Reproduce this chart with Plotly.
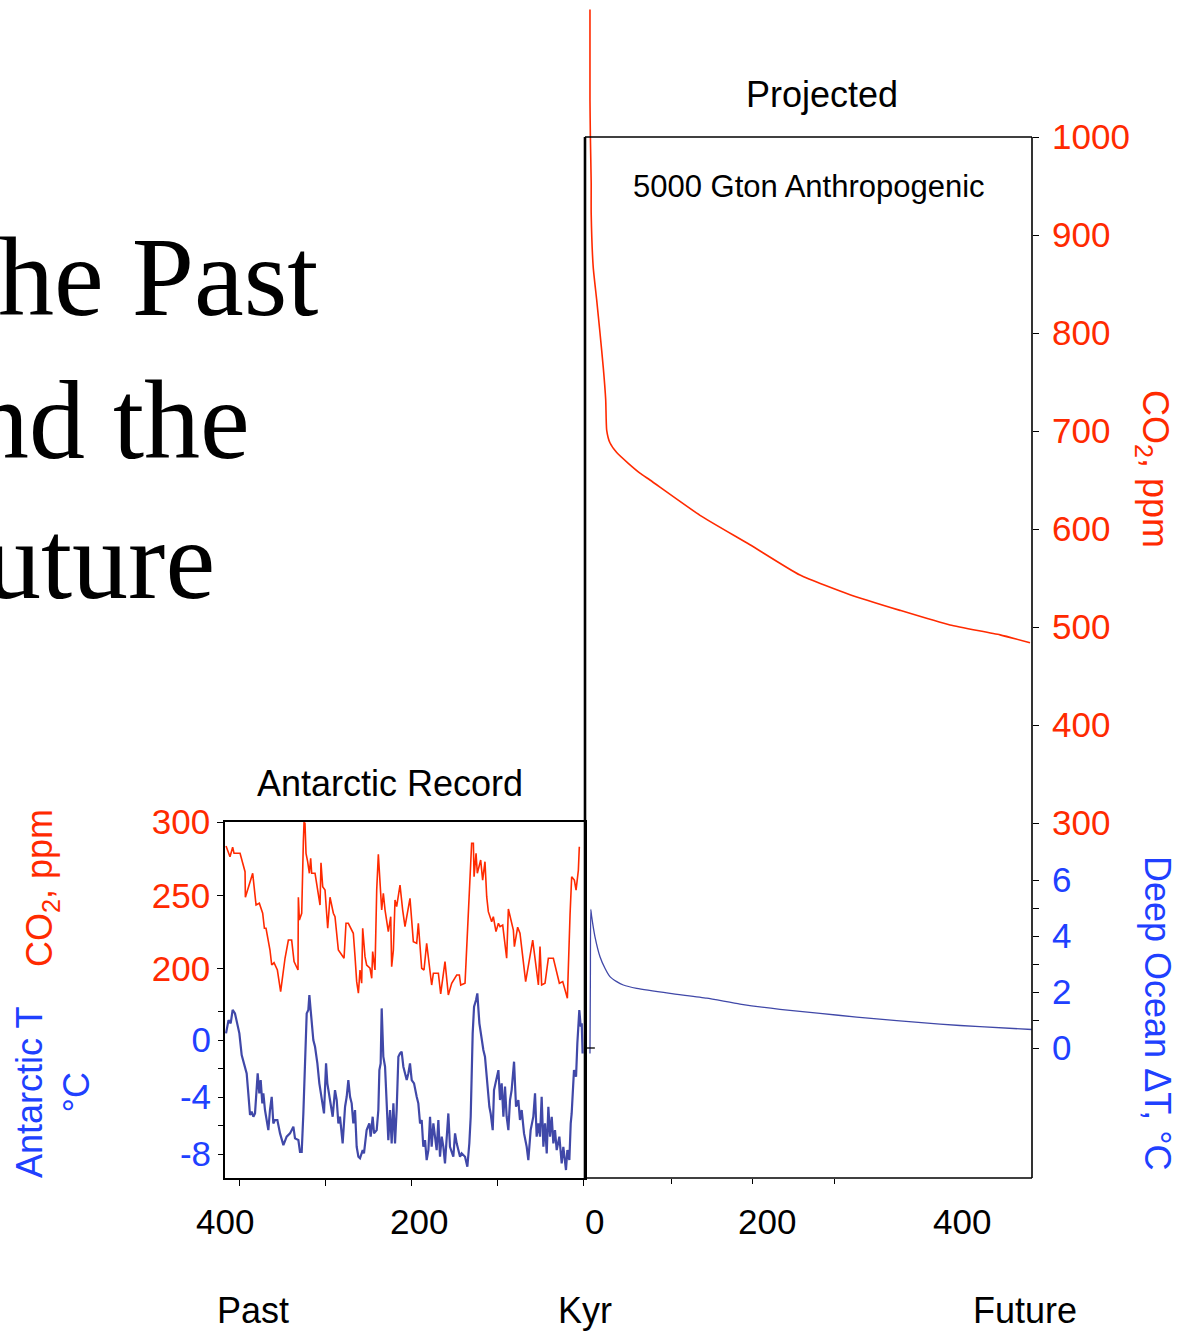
import plotly.graph_objects as go

# ---------------- data ----------------
# Antarctic (Vostok) record, kyr before present
past_co2_kyr = [415.1, 410.5, 407.4, 405.8, 398.8, 393.0, 392.6, 384.1, 380.2, 376.4, 372.5, 370.5, 368.6, 364.0, 362.0,
                359.3, 355.4, 351.6, 346.5, 342.6, 338.8, 336.0, 331.4, 331.0, 329.8, 327.1, 325.2, 324.4, 323.3, 322.1,
                320.2, 318.2, 316.7, 315.5, 311.6, 308.9, 305.8, 304.7, 302.7, 300.0, 296.9, 294.2, 290.3, 288.4, 284.5,
                277.9, 275.6, 272.9, 267.1, 265.1, 263.2, 261.2, 259.3, 257.4, 256.2, 253.5, 251.6, 247.7, 245.7, 244.6,
                241.9, 239.9, 238.0, 234.1, 232.2, 230.2, 226.4, 223.6, 222.5, 220.5, 218.6, 216.7, 212.8, 209.7, 207.0,
                201.2, 197.3, 193.4, 191.5, 187.6, 184.9, 181.8, 176.0, 174.0, 168.2, 165.5, 160.5, 156.6, 152.7, 146.9,
                143.8, 142.2, 137.2, 136.0, 134.5, 132.2, 129.5, 127.5, 126.7, 124.4, 122.9, 119.0, 116.7, 114.0, 112.0,
                110.1, 106.2, 104.3, 101.2, 98.4, 96.5, 93.4, 88.8, 86.8, 81.0, 79.8, 76.0, 73.3, 66.7, 58.5,
                51.9, 50.0, 48.1, 44.2, 40.3, 34.5, 27.5, 23.6, 18.2, 15.1, 13.2, 10.1, 8.1, 5.4, 4.3]
past_co2_ppm = [283.7, 276.4, 282.8, 278.7, 278.7, 266.2, 248.8, 265.1, 243.5, 244.7, 237.9, 227.7, 227.7, 212.9, 202.7,
                204.3, 199.3, 184.6, 207.3, 219.7, 219.7, 205.0, 199.3, 248.8, 233.3, 237.9, 286.6, 299.5, 299.1, 278.7,
                273.0, 265.1, 275.3, 265.1, 265.1, 253.7, 243.5, 272.3, 256.0, 253.7, 227.7, 248.8, 237.9, 235.6, 212.9,
                207.3, 231.1, 231.1, 224.3, 208.4, 191.4, 183.5, 199.3, 190.3, 227.7, 208.4, 202.7, 200.5, 193.7, 211.8,
                199.3, 253.7, 278.0, 240.1, 251.5, 240.1, 225.4, 235.6, 201.6, 212.9, 246.9, 242.4, 257.1, 240.1, 228.8,
                248.1, 218.6, 217.5, 231.1, 200.5, 199.3, 217.5, 189.1, 197.1, 197.1, 183.0, 205.0, 182.3, 190.3, 195.9,
                195.9, 189.1, 190.3, 205.0, 224.3, 259.4, 285.5, 285.5, 262.8, 278.7, 265.1, 274.1, 260.5, 273.0, 249.2,
                239.0, 232.2, 235.6, 225.4, 231.1, 228.8, 229.9, 207.3, 240.8, 226.5, 215.2, 228.4, 224.3, 191.4, 219.7,
                189.1, 215.2, 189.1, 190.3, 207.3, 207.3, 190.3, 191.4, 180.1, 236.7, 262.8, 260.5, 253.7, 267.3, 283.2]

past_t_kyr = [415.1, 412.2, 409.7, 407.4, 404.7, 401.9, 399.6, 396.9, 393.0, 391.1, 389.2, 387.2, 385.3, 383.3, 381.4,
              380.2, 378.3, 376.4, 374.8, 372.9, 371.7, 369.8, 367.9, 365.9, 364.0, 362.0, 360.1, 358.1, 355.4, 352.3,
              348.4, 344.6, 340.7, 336.8, 334.9, 331.0, 329.1, 327.1, 325.2, 323.3, 321.3, 319.4, 318.2, 316.7, 315.5,
              313.6, 311.6, 308.9, 306.6, 303.9, 301.2, 298.8, 297.3, 294.2, 291.1, 288.4, 286.4, 284.5, 282.6, 279.5,
              276.7, 274.8, 272.9, 270.9, 269.0, 267.1, 265.1, 263.2, 261.2, 259.3, 256.2, 254.7, 251.6, 248.5, 246.9,
              244.6, 243.0, 239.9, 238.0, 236.8, 235.3, 234.1, 232.2, 230.2, 228.3, 226.4, 224.4, 222.5, 220.5, 218.6,
              216.7, 214.7, 212.8, 210.9, 208.9, 205.0, 203.1, 201.2, 199.2, 196.5, 193.4, 191.5, 189.5, 187.6, 185.7,
              183.7, 181.8, 179.8, 177.9, 176.0, 174.0, 170.2, 168.2, 166.3, 164.3, 162.4, 160.5, 156.6, 154.7, 150.8,
              148.8, 146.9, 143.0, 141.1, 137.2, 134.5, 132.2, 130.6, 128.3, 126.7, 124.4, 122.9, 120.5, 119.0, 115.9,
              114.0, 112.0, 108.9, 107.4, 105.0, 103.5, 101.2, 98.4, 96.5, 94.6, 92.6, 90.7, 88.8, 86.8, 84.9,
              83.0, 80.2, 77.9, 75.2, 73.3, 71.3, 68.6, 65.5, 63.6, 60.9, 57.8, 55.8, 53.9, 51.9, 50.0,
              48.1, 46.1, 44.2, 42.2, 40.3, 38.4, 36.4, 34.5, 32.6, 30.6, 27.5, 24.8, 22.9, 19.8, 18.2,
              15.9, 14.3, 13.2, 10.5, 8.1, 6.6, 4.3, 2.7, 1.5, 0.5]
past_t_c = [0.47, 1.40, 1.17, 2.11, 1.87, 1.17, 0.47, -1.05, -1.87, -2.34, -3.74, -5.26, -5.03, -5.38, -5.15,
            -3.98, -2.34, -3.74, -2.81, -4.44, -3.74, -4.91, -5.61, -6.32, -4.91, -3.98, -5.85, -5.61, -5.61, -6.55,
            -7.37, -6.78, -6.55, -6.08, -6.90, -7.02, -7.84, -7.84, -5.15, -2.11, 1.87, 2.11, 3.16, 2.11, 1.17,
            0.00, -0.47, -1.64, -3.04, -4.21, -5.15, -1.64, -3.04, -4.21, -5.38, -3.51, -4.21, -5.85, -5.38, -7.25,
            -4.68, -3.98, -2.81, -3.98, -4.44, -5.85, -4.91, -7.49, -8.19, -8.30, -7.72, -7.95, -6.32, -5.85, -6.78,
            -5.38, -6.55, -6.32, -4.91, -2.11, -1.64, 2.22, -1.17, -1.87, -3.98, -7.02, -4.91, -7.25, -4.44, -7.25,
            -4.91, -1.17, -0.94, -0.82, -1.87, -2.81, -2.34, -1.64, -2.81, -3.04, -3.98, -4.44, -5.85, -5.61, -7.49,
            -7.02, -8.42, -7.72, -5.38, -7.49, -5.85, -7.72, -5.61, -8.19, -6.78, -7.49, -8.65, -5.15, -7.49, -8.19,
            -6.55, -7.25, -8.19, -7.95, -8.19, -8.89, -7.25, -5.38, 0.47, 2.34, 2.81, 3.27, 1.17, 0.47, -0.70,
            -1.17, -2.57, -4.68, -5.15, -6.32, -3.51, -2.81, -2.11, -4.21, -3.04, -5.38, -3.27, -5.38, -6.32, -4.21,
            -3.51, -1.52, -4.68, -4.21, -5.61, -4.91, -6.55, -7.49, -8.42, -6.32, -5.38, -3.74, -6.78, -5.85, -6.78,
            -3.98, -7.49, -5.85, -7.95, -4.68, -6.78, -5.38, -7.25, -6.32, -7.72, -6.78, -8.65, -7.49, -9.12, -7.72,
            -8.42, -5.85, -5.15, -2.11, -2.57, -0.23, 2.11, 0.94, 1.17, -0.94]

# Projected (5000 Gton anthropogenic), kyr after present
fut_co2_kyr = [0.0, 0.0, 0.5, 1.5, 1.5, 4.0, 8.2, 12.3, 16.3, 19.3, 20.5, 24.5, 32.8, 47.0, 61.3,
               73.6, 135.0, 196.3, 257.7, 319.0, 380.4, 441.7, 503.1, 539.9]
fut_co2_ppm = [1130, 1038, 1000, 953, 922, 867, 834, 800, 765, 732, 701, 688, 678, 667, 657,
               650, 614, 584, 553, 533, 517, 502, 492, 484]

fut_t_kyr = [0.0, 0.5, 1.0, 2.1, 6.1, 12.3, 18.4, 24.5, 32.8, 40.9, 57.3, 98.2, 143.2, 184.0, 233.1,
             282.2, 327.2, 376.3, 429.4, 478.5, 542.0]
fut_t_c = [-0.2, 2.5, 4.95, 4.69, 3.98, 3.26, 2.85, 2.55, 2.37, 2.25, 2.13, 1.95, 1.78, 1.57, 1.38,
           1.24, 1.10, 0.98, 0.85, 0.76, 0.66]

past_co2_ticks = [200, 250, 300]
past_t_ticks = [-8, -4, 0]
past_t_ticktext = ["-8", "-4", "0"]
past_t_minor = [-6, -2, 2]
fut_co2_ticks = [300, 400, 500, 600, 700, 800, 900, 1000]
fut_t_ticks = [0, 2, 4, 6]
fut_t_minor = [1, 3, 5]

# ---------------- style ----------------
W, H = 1184, 1340
RED = "#FF2A00"
BLUE_TXT = "#2040FF"
BLUE_LINE = "#4048A8"
SANS = "Liberation Sans, Arial, Helvetica, sans-serif"
SERIF = "Liberation Serif, Times New Roman, serif"


def px(x):
    return x / W


def py(y):
    return 1 - y / H


fig = go.Figure()
fig.add_trace(go.Scatter(x=past_co2_kyr, y=past_co2_ppm, mode="lines", xaxis="x", yaxis="y",
                         line=dict(color=RED, width=1.6), showlegend=False))
fig.add_trace(go.Scatter(x=past_t_kyr, y=past_t_c, mode="lines", xaxis="x", yaxis="y3",
                         line=dict(color=BLUE_LINE, width=2.2), showlegend=False))
fig.add_trace(go.Scatter(x=fut_co2_kyr, y=fut_co2_ppm, mode="lines", xaxis="x2", yaxis="y2",
                         line=dict(color=RED, width=1.6, shape="spline", smoothing=0.5), showlegend=False))
fig.add_trace(go.Scatter(x=fut_t_kyr, y=fut_t_c, mode="lines", xaxis="x2", yaxis="y4",
                         line=dict(color=BLUE_LINE, width=1.3, shape="spline", smoothing=0.5), showlegend=False))

left_bottom, left_top = py(1178), py(822)
right_top = 1.0
tick_common = dict(ticks="outside", ticklen=6, tickwidth=1.3, tickcolor="black",
                   showgrid=False, zeroline=False, automargin=False)

fig.update_layout(
    template="none",
    width=W, height=H, margin=dict(l=0, r=0, t=0, b=0, pad=0, autoexpand=False),
    paper_bgcolor="white", plot_bgcolor="white", showlegend=False,
    font=dict(family=SANS, size=35, color="black"),
    xaxis=dict(domain=[px(225), px(585)], range=[416.3, -2.3], anchor="y",
               showline=True, linecolor="black", linewidth=1.6, mirror=True,
               tickvals=[400, 300, 200, 100, 0], showticklabels=False, **tick_common),
    yaxis=dict(domain=[left_bottom, left_top], range=[57.8, 300], anchor="x", side="left",
               showline=True, linecolor="black", linewidth=1.6, mirror=True,
               tickvals=past_co2_ticks, tickfont=dict(color=RED, size=35), ticklabelstandoff=0,
               **tick_common),
    yaxis3=dict(overlaying="y", anchor="x", side="left", range=[-9.68, 15.30], showline=False,
                tickvals=past_t_ticks, ticktext=past_t_ticktext,
                tickfont=dict(color=BLUE_TXT, size=35), ticklabelstandoff=0,
                minor=dict(tickvals=past_t_minor, ticks="outside", ticklen=6, tickwidth=1.3,
                           tickcolor="black", showgrid=False),
                **tick_common),
    xaxis2=dict(domain=[px(585), px(1032)], range=[-6.1, 542.3], anchor="y2", showline=False,
                tickvals=[100, 200, 300], showticklabels=False,
                **{**tick_common, "ticklen": 5}),
    yaxis2=dict(domain=[left_bottom, right_top], range=[-62.2, 1139.8], anchor="x2", side="right",
                showline=False, tickvals=fut_co2_ticks, tickfont=dict(color=RED, size=35),
                ticklabelstandoff=6, **tick_common),
    yaxis4=dict(overlaying="y2", anchor="x2", side="right", range=[-4.643, 37.43], showline=False,
                tickvals=fut_t_ticks, tickfont=dict(color=BLUE_TXT, size=35), ticklabelstandoff=6,
                minor=dict(tickvals=fut_t_minor, ticks="outside", ticklen=6, tickwidth=1.3,
                           tickcolor="black", showgrid=False),
                **tick_common),
)

# right panel box (top at y=137)
line = dict(color="black", width=1.6)
fig.add_shape(type="line", xref="paper", yref="paper", x0=px(585), x1=px(1032), y0=py(137), y1=py(137), line=line)
fig.add_shape(type="line", xref="paper", yref="paper", x0=px(1032), x1=px(1032), y0=py(137), y1=py(1178), line=line)
fig.add_shape(type="line", xref="paper", yref="paper", x0=px(585), x1=px(585), y0=py(137), y1=py(1178),
              line=dict(color="black", width=2.6))
fig.add_shape(type="line", xref="paper", yref="paper", x0=px(585), x1=px(1032), y0=py(1178), y1=py(1178), line=line)
fig.add_shape(type="line", xref="x2", yref="y4", x0=-6.1, x1=6.0, y0=0, y1=0, line=dict(color="black", width=1.3))


def ann(text, x, y, size=35, color="black", angle=0, family=SANS, xanchor="center"):
    fig.add_annotation(text=text, x=px(x), y=py(y), xref="paper", yref="paper", showarrow=False,
                       textangle=angle, xanchor=xanchor, yanchor="middle",
                       font=dict(family=family, size=size, color=color))


# x tick labels
for t, xx in [("400", 225), ("200", 419), ("0", 594), ("200", 767), ("400", 962)]:
    ann(t, xx, 1221)

ann("Past", 253, 1310, size=36)
ann("Kyr", 585, 1310, size=36)
ann("Future", 1025, 1310, size=36)

ann("Antarctic Record", 390, 783, size=36)
ann("Projected", 822, 94, size=36)
ann("5000 Gton Anthropogenic", 809, 187, size=31)

ann("CO<sub>2</sub>, ppm", 42, 888, size=36, color=RED, angle=-90)
ann("Antarctic T<br>°C", 53, 1093, size=36, color=BLUE_TXT, angle=-90)
ann("CO<sub>2</sub>, ppm", 1153, 469, size=36, color=RED, angle=90)
ann("Deep Ocean ΔT, °C", 1157, 1013, size=36, color=BLUE_TXT, angle=90)

# big slide title (cropped at left edge, as in the reference slide)
ann("he Past", 320, 277, size=112, family=SERIF, xanchor="right")
ann("nd the", 252, 420, size=112, family=SERIF, xanchor="right")
ann("uture", 217, 560, size=112, family=SERIF, xanchor="right")

fig.write_html("out.html")
